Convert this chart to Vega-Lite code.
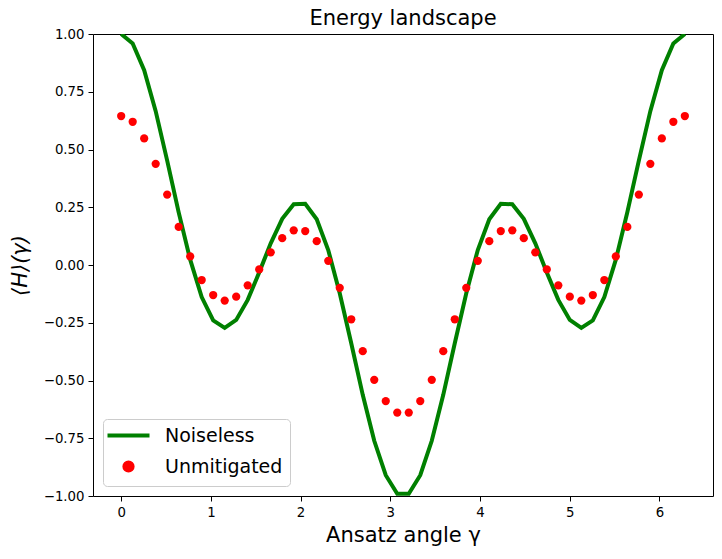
{
  "$schema": "https://vega.github.io/schema/vega-lite/v6.json",
  "width": 620,
  "height": 462,
  "autosize": {"type": "none"},
  "padding": {"left": 93, "top": 34, "right": 9, "bottom": 63},
  "background": "white",
  "title": {
    "text": "Energy landscape",
    "fontSize": 21,
    "fontWeight": "normal",
    "font": "DejaVu Sans",
    "color": "black",
    "offset": 7,
    "dy": 9
  },
  "config": {
    "font": "DejaVu Sans",
    "view": {"stroke": "black", "strokeWidth": 1},
    "axis": {
      "domain": false,
      "grid": false,
      "ticks": true,
      "tickColor": "black",
      "tickSize": 5,
      "tickWidth": 1,
      "labelFont": "DejaVu Sans",
      "labelFontSize": 13.3,
      "labelColor": "black",
      "labelPadding": 4,
      "titleFont": "DejaVu Sans",
      "titleFontSize": 21,
      "titleFontWeight": "normal",
      "titleColor": "black"
    }
  },
  "data": {
    "values": [
      {"gamma": 0.0, "noiseless": 1.0, "unmitigated": 0.645},
      {"gamma": 0.1282, "noiseless": 0.959, "unmitigated": 0.62},
      {"gamma": 0.2565, "noiseless": 0.843, "unmitigated": 0.548},
      {"gamma": 0.3847, "noiseless": 0.666, "unmitigated": 0.438},
      {"gamma": 0.5129, "noiseless": 0.452, "unmitigated": 0.305},
      {"gamma": 0.6411, "noiseless": 0.228, "unmitigated": 0.165},
      {"gamma": 0.7694, "noiseless": 0.023, "unmitigated": 0.037},
      {"gamma": 0.8976, "noiseless": -0.139, "unmitigated": -0.065},
      {"gamma": 1.0258, "noiseless": -0.24, "unmitigated": -0.13},
      {"gamma": 1.1541, "noiseless": -0.272, "unmitigated": -0.154},
      {"gamma": 1.2823, "noiseless": -0.238, "unmitigated": -0.137},
      {"gamma": 1.4105, "noiseless": -0.151, "unmitigated": -0.088},
      {"gamma": 1.5387, "noiseless": -0.032, "unmitigated": -0.019},
      {"gamma": 1.667, "noiseless": 0.094, "unmitigated": 0.055},
      {"gamma": 1.7952, "noiseless": 0.2, "unmitigated": 0.116},
      {"gamma": 1.9234, "noiseless": 0.263, "unmitigated": 0.15},
      {"gamma": 2.0517, "noiseless": 0.265, "unmitigated": 0.147},
      {"gamma": 2.1799, "noiseless": 0.198, "unmitigated": 0.103},
      {"gamma": 2.3081, "noiseless": 0.065, "unmitigated": 0.018},
      {"gamma": 2.4363, "noiseless": -0.122, "unmitigated": -0.099},
      {"gamma": 2.5646, "noiseless": -0.339, "unmitigated": -0.235},
      {"gamma": 2.6928, "noiseless": -0.562, "unmitigated": -0.373},
      {"gamma": 2.821, "noiseless": -0.761, "unmitigated": -0.497},
      {"gamma": 2.9493, "noiseless": -0.91, "unmitigated": -0.589},
      {"gamma": 3.0775, "noiseless": -0.99, "unmitigated": -0.639},
      {"gamma": 3.2057, "noiseless": -0.99, "unmitigated": -0.639},
      {"gamma": 3.3339, "noiseless": -0.91, "unmitigated": -0.589},
      {"gamma": 3.4622, "noiseless": -0.761, "unmitigated": -0.497},
      {"gamma": 3.5904, "noiseless": -0.562, "unmitigated": -0.373},
      {"gamma": 3.7186, "noiseless": -0.339, "unmitigated": -0.235},
      {"gamma": 3.8468, "noiseless": -0.122, "unmitigated": -0.099},
      {"gamma": 3.9751, "noiseless": 0.065, "unmitigated": 0.018},
      {"gamma": 4.1033, "noiseless": 0.198, "unmitigated": 0.103},
      {"gamma": 4.2315, "noiseless": 0.265, "unmitigated": 0.147},
      {"gamma": 4.3598, "noiseless": 0.263, "unmitigated": 0.15},
      {"gamma": 4.488, "noiseless": 0.2, "unmitigated": 0.116},
      {"gamma": 4.6162, "noiseless": 0.094, "unmitigated": 0.055},
      {"gamma": 4.7444, "noiseless": -0.032, "unmitigated": -0.019},
      {"gamma": 4.8727, "noiseless": -0.151, "unmitigated": -0.088},
      {"gamma": 5.0009, "noiseless": -0.238, "unmitigated": -0.137},
      {"gamma": 5.1291, "noiseless": -0.272, "unmitigated": -0.154},
      {"gamma": 5.2574, "noiseless": -0.24, "unmitigated": -0.13},
      {"gamma": 5.3856, "noiseless": -0.139, "unmitigated": -0.065},
      {"gamma": 5.5138, "noiseless": 0.023, "unmitigated": 0.037},
      {"gamma": 5.642, "noiseless": 0.228, "unmitigated": 0.165},
      {"gamma": 5.7703, "noiseless": 0.452, "unmitigated": 0.305},
      {"gamma": 5.8985, "noiseless": 0.666, "unmitigated": 0.438},
      {"gamma": 6.0267, "noiseless": 0.843, "unmitigated": 0.548},
      {"gamma": 6.155, "noiseless": 0.959, "unmitigated": 0.62},
      {"gamma": 6.2832, "noiseless": 1.0, "unmitigated": 0.645}
    ]
  },
  "layer": [
    {
      "mark": {"type": "line", "strokeWidth": 4, "clip": true},
      "encoding": {
        "x": {
          "field": "gamma",
          "type": "quantitative",
          "scale": {"domain": [-0.314, 6.597], "nice": false, "zero": false},
          "axis": {"values": [0, 1, 2, 3, 4, 5, 6], "format": "d", "title": "Ansatz angle γ", "titlePadding": 6}
        },
        "y": {
          "field": "noiseless",
          "type": "quantitative",
          "scale": {"domain": [-1, 1], "nice": false, "zero": false},
          "axis": {
            "values": [-1, -0.75, -0.5, -0.25, 0, 0.25, 0.5, 0.75, 1],
            "format": ".2f",
            "title": "⟨H⟩(γ)",
            "titleFontStyle": "italic",
            "titlePadding": 13
          }
        },
        "color": {
          "datum": "Noiseless",
          "type": "nominal",
          "scale": {"domain": ["Noiseless", "Unmitigated"], "range": ["#008000", "#ff0000"]},
          "legend": {
            "title": null,
            "orient": "bottom-left",
            "offset": 10,
            "padding": 7,
            "fillColor": "white",
            "strokeColor": "#cccccc",
            "cornerRadius": 4,
            "labelFont": "DejaVu Sans",
            "labelFontSize": 19,
            "labelColor": "black",
            "symbolSize": 64,
            "symbolOffset": 9,
            "labelOffset": 27,
            "rowPadding": 8,
            "encode": {
              "symbols": {
                "update": {
                  "shape": {"signal": "datum.value === 'Noiseless' ? 'stroke' : 'circle'"},
                  "size": {"signal": "datum.value === 'Noiseless' ? 1764 : 68"},
                  "fill": {"signal": "datum.value === 'Noiseless' ? 'transparent' : '#ff0000'"},
                  "stroke": {"signal": "datum.value === 'Noiseless' ? '#008000' : 'transparent'"},
                  "strokeWidth": {"value": 4},
                  "opacity": {"value": 1}
                }
              }
            }
          }
        }
      }
    },
    {
      "mark": {"type": "circle", "size": 68, "opacity": 1, "clip": true},
      "encoding": {
        "x": {"field": "gamma", "type": "quantitative"},
        "y": {"field": "unmitigated", "type": "quantitative", "title": "⟨H⟩(γ)"},
        "color": {"datum": "Unmitigated", "type": "nominal"}
      }
    }
  ]
}
